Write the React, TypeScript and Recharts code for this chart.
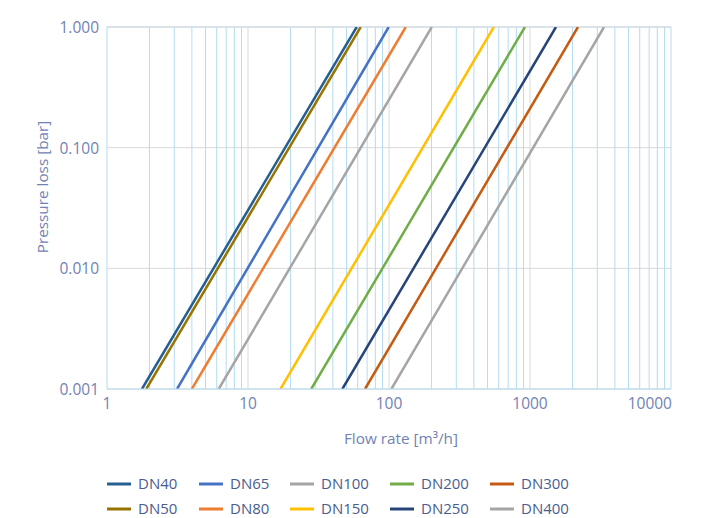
import { LineChart, Line, XAxis, YAxis, CartesianGrid, ReferenceLine } from 'recharts';

const SERIES = ['DN40', 'DN50', 'DN65', 'DN80', 'DN100', 'DN150', 'DN200', 'DN250', 'DN300', 'DN400'];
const COLORS = ['#255e91', '#997300', '#4472c4', '#ed7d31', '#a5a5a5', '#ffc000', '#70ad47', '#264478', '#c55a11', '#a5a5a5'];

// flow rate [m3/h] where each curve crosses 0.001 bar and 1.000 bar
const FLOW_AT_LOW = [1.77, 1.9, 3.14, 4.0, 6.2, 17.0, 28.1, 46.7, 67.6, 104];
const FLOW_AT_HIGH = [59, 63, 99.5, 131.5, 201, 554, 920, 1528, 2188, 3350];
const PRESSURE_LOW = 0.001;
const PRESSURE_HIGH = 1;

const X_TICKS = [1, 10, 100, 1000, 10000];
const Y_TICKS = [0.001, 0.01, 0.1, 1];
const X_MAJOR = [10, 100, 1000];
const X_MINOR = [2, 3, 4, 5, 6, 7, 8, 9, 20, 30, 40, 50, 60, 70, 80, 90, 200, 300, 400, 500, 600, 700, 800, 900,
  2000, 3000, 4000, 5000, 6000, 7000, 8000, 9000, 10000];

const FONT = '"Open Sans", sans-serif';
const TICK_COLOR = '#7183b3';
const LEGEND_COLOR = '#4a5d8f';
const MINOR_COLOR = '#b3dcf1';
const MAJOR_COLOR = '#d9d9d9';
const TICK_SIZE = 15.5;

const curves = SERIES.map((name, i) => ({
  name,
  color: COLORS[i],
  data: [
    { q: FLOW_AT_LOW[i], p: PRESSURE_LOW },
    { q: FLOW_AT_HIGH[i], p: PRESSURE_HIGH },
  ],
}));

function XTick({ x, y, payload }: any) {
  const last = payload.value === 10000;
  return (
    <text x={last ? x + 1 : x} y={y} textAnchor={last ? 'end' : 'middle'} dominantBaseline="central"
      fill={TICK_COLOR} fontSize={TICK_SIZE} fontFamily={FONT}>
      {payload.value}
    </text>
  );
}

function YTick({ x, y, payload }: any) {
  return (
    <text x={x} y={y} textAnchor="end" dominantBaseline="central" fill={TICK_COLOR} fontSize={TICK_SIZE} fontFamily={FONT}>
      {Number(payload.value).toFixed(3)}
    </text>
  );
}

const LEGEND_COLS = [107, 199, 290, 390, 490];
const LEGEND_ROWS = [483, 508];

export default function App() {
  return (
    <div style={{ position: 'absolute', left: 0, top: 0, width: 705, height: 518, background: '#fff' }}>
      <LineChart width={705} height={518} margin={{ top: 27, right: 34, bottom: 99, left: 0 }}>
        <CartesianGrid vertical={false} stroke={MAJOR_COLOR} />
        {X_MINOR.map((v) => (
          <ReferenceLine key={'m' + v} x={v} stroke={MINOR_COLOR} strokeWidth={1} />
        ))}
        {X_MAJOR.map((v) => (
          <ReferenceLine key={'M' + v} x={v} stroke={MAJOR_COLOR} strokeWidth={1} />
        ))}
        <ReferenceLine y={1} stroke="#c9d9e6" strokeWidth={1} />
        <XAxis
          type="number"
          dataKey="q"
          scale="log"
          domain={[1, 10000]}
          ticks={X_TICKS}
          allowDataOverflow
          height={30}
          tickSize={0}
          tickMargin={14}
          tick={<XTick />}
          axisLine={{ stroke: MINOR_COLOR }}
          tickLine={false}
        />
        <YAxis
          type="number"
          dataKey="p"
          scale="log"
          domain={[0.001, 1]}
          ticks={Y_TICKS}
          allowDataOverflow
          width={107}
          tickSize={0}
          tickMargin={8}
          tick={<YTick />}
          axisLine={{ stroke: MINOR_COLOR }}
          tickLine={false}
        />
        {curves.map((c) => (
          <Line
            key={c.name}
            data={c.data}
            dataKey="p"
            name={c.name}
            stroke={c.color}
            strokeWidth={2.5}
            dot={false}
            activeDot={false}
            isAnimationActive={false}
          />
        ))}
      </LineChart>
      <svg width={705} height={518} style={{ position: 'absolute', left: 0, top: 0, pointerEvents: 'none' }}>
        <text x={42} y={187} transform="rotate(-90 42 187)" textAnchor="middle" dominantBaseline="central"
          fill={TICK_COLOR} fontSize={15.3} fontFamily={FONT}>
          Pressure loss [bar]
        </text>
        <text x={401} y={438} textAnchor="middle" dominantBaseline="central" fill={TICK_COLOR} fontSize={15.3} fontFamily={FONT}>
          Flow rate [m³/h]
        </text>
        {curves.map((c, i) => {
          const x = LEGEND_COLS[Math.floor(i / 2)];
          const y = LEGEND_ROWS[i % 2];
          return (
            <g key={c.name}>
              <line x1={x} x2={x + 24} y1={y + 1} y2={y + 1} stroke={c.color} strokeWidth={3} />
              <text x={x + 31} y={y} dominantBaseline="central" fill={LEGEND_COLOR} fontSize={15} fontFamily={FONT}>
                {c.name}
              </text>
            </g>
          );
        })}
      </svg>
    </div>
  );
}
